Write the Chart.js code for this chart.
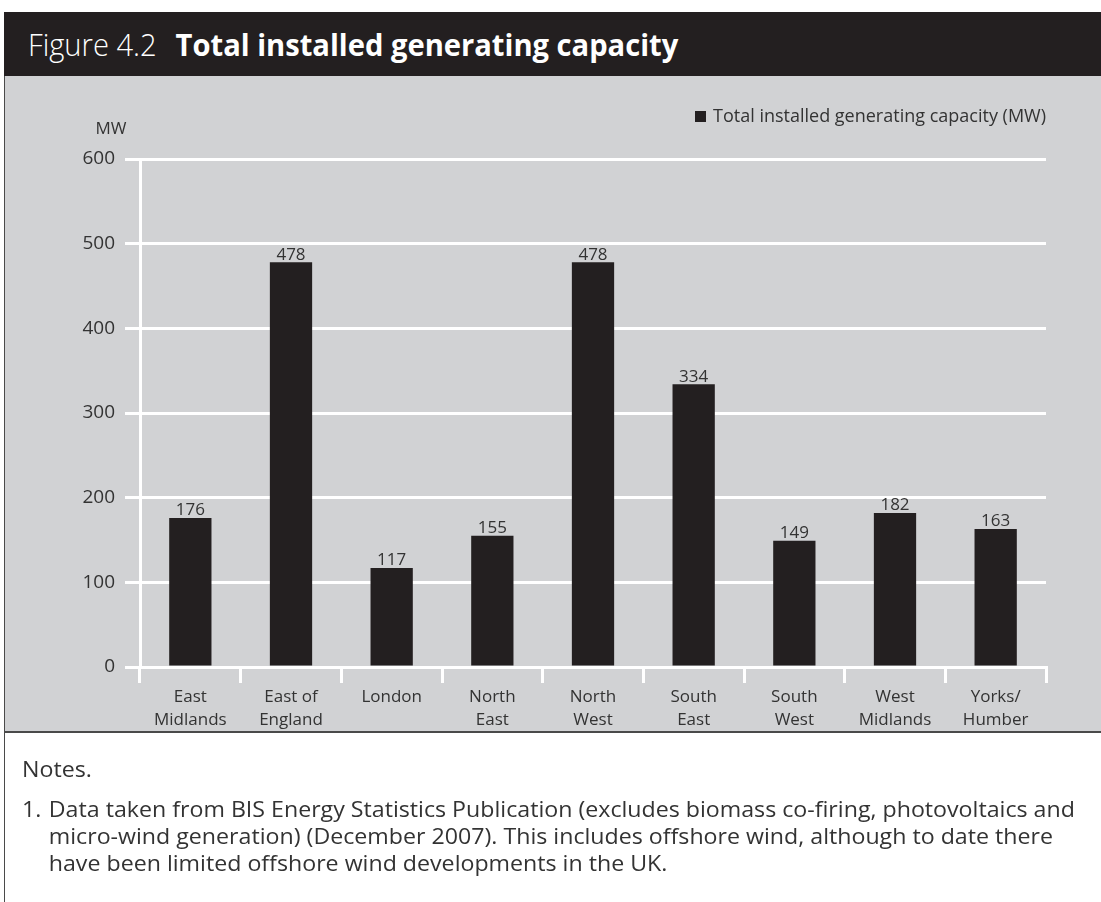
<!DOCTYPE html>
<html>
<head>
<meta charset="utf-8">
<script src="https://cdn.jsdelivr.net/npm/chart.js@4.4.1/dist/chart.umd.min.js"></script>
<style>
    body { margin: 0; width: 1101px; height: 902px; background: #fff; position: relative; overflow: hidden; }
    .header {
        position: absolute; left: 4px; top: 12px; width: 1097px; height: 64px;
        background: #231f20; color: #fff; overflow: hidden;
    }
    .header .text {
        position: absolute; left: 24px; top: 0; line-height: 64px; white-space: nowrap;
        font-family: "Open Sans", sans-serif; font-size: 31px;
        transform: scaleX(0.94); transform-origin: left center;
    }
    .header .num { font-weight: 300; margin-right: 12px; }
    .header b { font-weight: 700; }
    .panel {
        position: absolute; left: 4px; top: 76px; width: 1097px; height: 657px;
        background: #d1d2d4; border-left: 1px solid #4a4a4a; border-bottom: 2px solid #4a4a4a;
        box-sizing: border-box;
    }
    .panel canvas { position: absolute; left: 0; top: 0; }
    .notes {
        position: absolute; left: 4px; top: 733px; width: 1097px; height: 169px;
        border-left: 1px solid #4a4a4a; box-sizing: border-box;
        font-family: "Open Sans", sans-serif; font-size: 22.5px; color: #333;
    }
    .notes .inner { position: absolute; left: 17px; top: 0; white-space: nowrap; transform: scaleX(1.03); transform-origin: left top; }
    .notes .title { position: absolute; left: 0; top: 20px; }
    .notes .item { position: absolute; left: 0; top: 62px; line-height: 27px; }
    .notes .item span { display: inline-block; width: 26px; vertical-align: top; }
    .notes .item div { display: inline-block; }
</style>
</head>
<body>
<div class="header"><div class="text"><span class="num">Figure 4.2</span> <b>Total installed generating capacity</b></div></div>
<div class="panel"><canvas id="capacityChart" width="1096" height="655"></canvas></div>
<div class="notes">
    <div class="inner">
        <div class="title">Notes.</div>
        <div class="item"><span>1.</span><div>Data taken from BIS Energy Statistics Publication (excludes biomass co-firing, photovoltaics and<br>micro-wind generation) (December 2007). This includes offshore wind, although to date there<br>have been limited offshore wind developments in the UK.</div></div>
    </div>
</div>

<script>
// Regions and installed capacity (MW)
const regions = [
    ['East', 'Midlands'], ['East of', 'England'], 'London', ['North', 'East'], ['North', 'West'],
    ['South', 'East'], ['South', 'West'], ['West', 'Midlands'], ['Yorks/', 'Humber']
];
const capacity = [176, 478, 117, 155, 478, 334, 149, 182, 163];
const yTicks = [0, 100, 200, 300, 400, 500, 600];
const seriesName = 'Total installed generating capacity (MW)';

const textColor = '#333333';
const barColor = '#231f20';
const chartFont = '"Open Sans", "Noto Sans", sans-serif';

// Value above each bar, unit label and legend key
const extrasPlugin = {
    id: 'extras',
    afterDatasetsDraw(chart) {
        const ctx = chart.ctx;
        ctx.save();
        ctx.fillStyle = textColor;
        ctx.font = '17px ' + chartFont;
        ctx.textAlign = 'center';
        ctx.textBaseline = 'bottom';
        chart.getDatasetMeta(0).data.forEach((bar, i) => {
            ctx.fillText(capacity[i], bar.x, bar.y + 1);
        });

        ctx.textBaseline = 'middle';
        ctx.fillText('MW', 106, 53);

        ctx.fillStyle = barColor;
        ctx.fillRect(690, 35, 11, 11);
        ctx.fillStyle = textColor;
        ctx.textAlign = 'left';
        ctx.font = '18px ' + chartFont;
        ctx.fillText(seriesName, 708, 41);
        ctx.restore();
    }
};

const ctx = document.getElementById('capacityChart').getContext('2d');

const capacityChart = new Chart(ctx, {
    type: 'bar',
    data: {
        labels: regions,
        datasets: [{
            label: seriesName,
            data: capacity,
            backgroundColor: barColor,
            categoryPercentage: 1,
            barPercentage: 0.42
        }]
    },
    options: {
        responsive: false,
        animation: false,
        layout: { padding: { top: 83, right: 55, left: 0, bottom: 0 } },
        plugins: {
            legend: { display: false },
            tooltip: { enabled: false }
        },
        scales: {
            x: {
                afterFit: scale => { scale.height = 64; },
                grid: {
                    offset: true,
                    drawOnChartArea: false,
                    color: '#ffffff',
                    lineWidth: 3,
                    tickLength: 16
                },
                border: { display: true, color: '#ffffff', width: 3 },
                ticks: {
                    color: textColor,
                    font: { family: chartFont, size: 17, lineHeight: 1.35 },
                    padding: 3,
                    maxRotation: 0
                }
            },
            y: {
                min: 0,
                max: 600,
                afterFit: scale => { scale.width = 135; },
                afterBuildTicks: scale => { scale.ticks = yTicks.map(v => ({ value: v })); },
                grid: {
                    color: '#ffffff',
                    lineWidth: 3,
                    tickLength: 15
                },
                border: { display: true, color: '#ffffff', width: 3 },
                ticks: {
                    color: textColor,
                    font: { family: chartFont, size: 19 },
                    padding: 10
                }
            }
        }
    },
    plugins: [extrasPlugin]
});
</script>
</body>
</html>
